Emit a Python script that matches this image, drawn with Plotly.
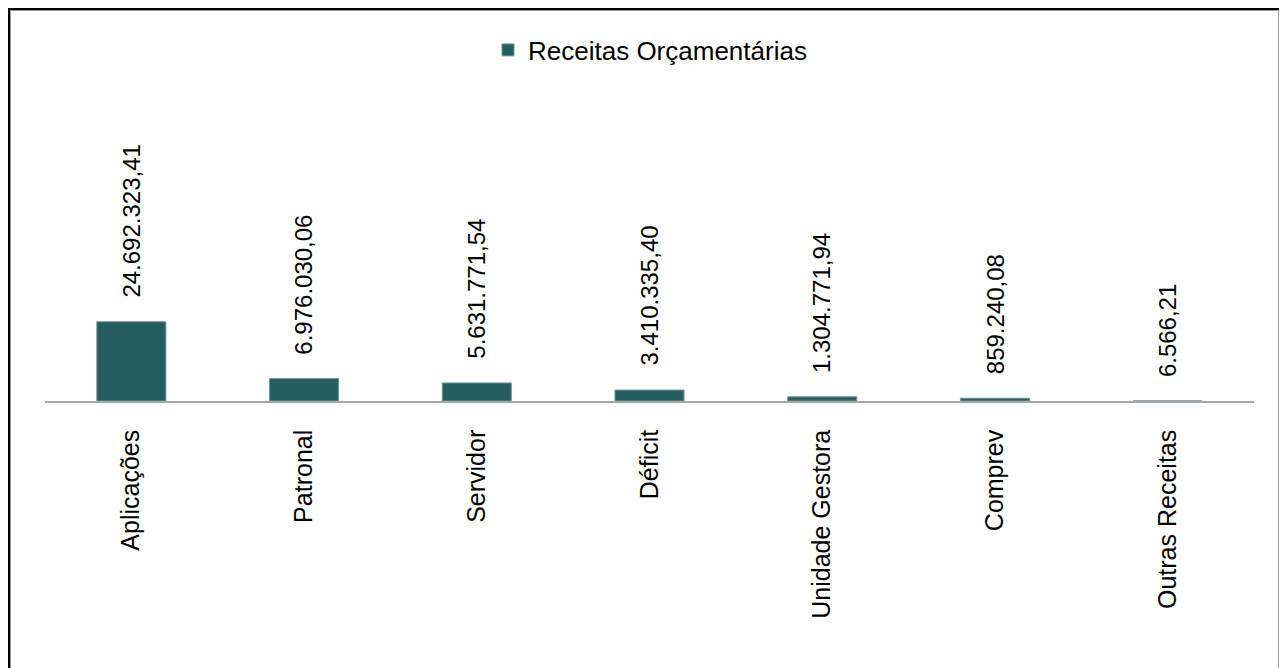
import plotly.graph_objects as go

# Receitas orçamentárias por origem (R$)
categories = ['Aplicações', 'Patronal', 'Servidor', 'Déficit',
              'Unidade Gestora', 'Comprev', 'Outras Receitas']
values = [24692323.41, 6976030.06, 5631771.54, 3410335.40,
          1304771.94, 859240.08, 6566.21]
series_name = 'Receitas Orçamentárias'

# the page body adds an 8px margin, so the figure is offset by 8px
OFF = 8
W, H = 1279, 660
M_L, M_R, M_T, M_B = 45 - OFF, 1287 - 1254, 80 - OFF, 668 - 401
FONT = 'Liberation Sans, Arial, sans-serif'
BAR_COLOR = '#255E60'


def brl(v):
    # 24692323.41 -> 24.692.323,41
    s = f'{v:,.2f}'
    return s.replace(',', '#').replace('.', ',').replace('#', '.')


def px_x(p):
    # screen pixel -> paper x
    return (p - OFF - M_L) / (W - M_L - M_R)


def px_y(p):
    # screen pixel -> paper y
    return 1 - (p - OFF - M_T) / (H - M_T - M_B)


fig = go.Figure()
fig.add_trace(go.Bar(
    x=categories,
    y=values,
    name=series_name,
    marker=dict(color=BAR_COLOR, line=dict(color='#6F9A9B', width=1)),
    showlegend=True,
))

for cat, val in zip(categories, values):
    fig.add_annotation(
        x=cat, y=val, text=brl(val), textangle=-90,
        yanchor='bottom', yshift=22, showarrow=False,
        font=dict(family=FONT, size=24, color='black'),
    )

# outer frame (black) with thin gray inner line
fig.add_shape(type='rect', xref='paper', yref='paper',
              x0=px_x(8.5), x1=px_x(1281.5), y0=px_y(720), y1=px_y(8.5),
              line=dict(color='black', width=3), layer='above')
fig.add_shape(type='rect', xref='paper', yref='paper',
              x0=px_x(10.5), x1=px_x(1278.5), y0=px_y(720), y1=px_y(10.5),
              line=dict(color='#9A9A9A', width=1), layer='above')

fig.update_layout(
    width=W, height=H,
    margin=dict(l=M_L, r=M_R, t=M_T, b=M_B),
    paper_bgcolor='white', plot_bgcolor='white',
    bargap=0.6,
    font=dict(family=FONT, color='black'),
    showlegend=True,
    legend=dict(orientation='h', x=px_x(650), xanchor='center',
                y=px_y(50), yanchor='middle',
                font=dict(family=FONT, size=26, color='black'),
                itemwidth=30),
)
fig.update_xaxes(
    showline=True, linecolor='#A6A6A6', linewidth=1.5,
    tickangle=-90, ticks='', ticklabelstandoff=17,
    tickfont=dict(family=FONT, size=25, color='black'),
    showgrid=False,
)
fig.update_yaxes(range=[0, 1e8], visible=False, showgrid=False, zeroline=False)

fig.write_html('out.html')
